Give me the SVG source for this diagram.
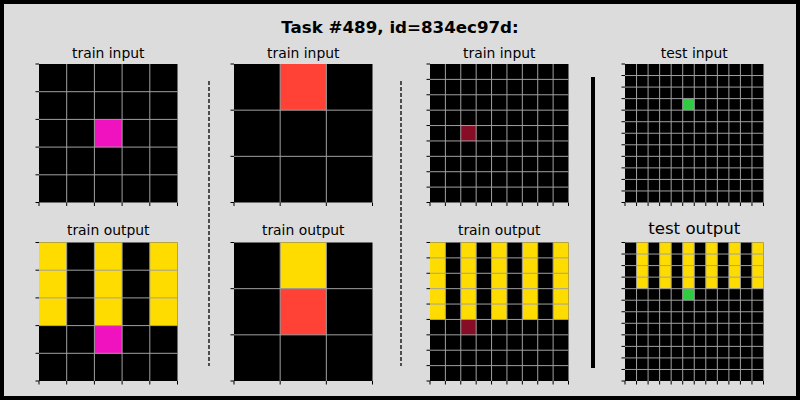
<svg xmlns="http://www.w3.org/2000/svg" width="800" height="400" viewBox="0 0 800 400">
<style>
.t{font-family:"DejaVu Sans","Liberation Sans",sans-serif;fill:#000;text-anchor:middle}
.title{font-size:16.67px;font-weight:bold}
.sub{font-size:13.9px}
.big{font-size:16.67px}
.bg{fill:#000}
.grid{stroke:#a0a0a0;stroke-width:1;fill:none}
.tick{stroke:#000;stroke-width:1;fill:none}
.y{fill:#FFDC00}
.pk{fill:#F012BE}
.rd{fill:#FF4136}
.dr{fill:#870C25}
.gr{fill:#2ECC40}
.sep{stroke:#000;stroke-width:1.3;stroke-dasharray:4,2}
</style>
<rect x="0" y="0" width="800" height="400" fill="#000"/>
<rect x="4" y="4" width="792" height="392" fill="#dcdcdc"/>
<text class="t title" x="400" y="32.5">Task #489, id=834ec97d:</text>

<g id="train-input-1">
<text class="t sub" x="108.25" y="57.5">train input</text>
<rect class="bg" x="39" y="64" width="138.5" height="138.5"/>
<rect class="pk" x="94.4" y="119.4" width="27.7" height="27.7"/>
<path class="grid" d="M66.7 64V202.5M94.4 64V202.5M122.1 64V202.5M149.8 64V202.5M39 91.7H177.5M39 119.4H177.5M39 147.1H177.5M39 174.8H177.5"/>
<path class="tick" d="M35.5 64H39M35.5 91.7H39M35.5 119.4H39M35.5 147.1H39M35.5 174.8H39M35.5 202.5H39M39 202.5V206M66.7 202.5V206M94.4 202.5V206M122.1 202.5V206M149.8 202.5V206M177.5 202.5V206"/>
</g>

<g id="train-output-1">
<text class="t sub" x="108.25" y="234.5">train output</text>
<rect class="bg" x="39" y="242.5" width="138.5" height="138.5"/>
<rect class="y" x="39" y="242.5" width="27.7" height="83.1"/>
<rect class="y" x="94.4" y="242.5" width="27.7" height="83.1"/>
<rect class="y" x="149.8" y="242.5" width="27.7" height="83.1"/>
<rect class="pk" x="94.4" y="325.6" width="27.7" height="27.7"/>
<path class="grid" d="M66.7 242.5V381M94.4 242.5V381M122.1 242.5V381M149.8 242.5V381M39 270.2H177.5M39 297.9H177.5M39 325.6H177.5M39 353.3H177.5"/>
<path class="tick" d="M35.5 242.5H39M35.5 270.2H39M35.5 297.9H39M35.5 325.6H39M35.5 353.3H39M35.5 381H39M39 381V384.5M66.7 381V384.5M94.4 381V384.5M122.1 381V384.5M149.8 381V384.5M177.5 381V384.5"/>
</g>

<g id="train-input-2">
<text class="t sub" x="303.25" y="57.5">train input</text>
<rect class="bg" x="234" y="64" width="138.5" height="138.5"/>
<rect class="rd" x="280.17" y="64" width="46.17" height="46.17"/>
<path class="grid" d="M280.17 64V202.5M326.33 64V202.5M234 110.17H372.5M234 156.33H372.5"/>
<path class="tick" d="M230.5 64H234M230.5 110.17H234M230.5 156.33H234M230.5 202.5H234M234 202.5V206M280.17 202.5V206M326.33 202.5V206M372.5 202.5V206"/>
</g>

<g id="train-output-2">
<text class="t sub" x="303.25" y="234.5">train output</text>
<rect class="bg" x="234" y="242.5" width="138.5" height="138.5"/>
<rect class="y" x="280.17" y="242.5" width="46.17" height="46.17"/>
<rect class="rd" x="280.17" y="288.67" width="46.17" height="46.17"/>
<path class="grid" d="M280.17 242.5V381M326.33 242.5V381M234 288.67H372.5M234 334.83H372.5"/>
<path class="tick" d="M230.5 242.5H234M230.5 288.67H234M230.5 334.83H234M230.5 381H234M234 381V384.5M280.17 381V384.5M326.33 381V384.5M372.5 381V384.5"/>
</g>

<g id="train-input-3">
<text class="t sub" x="499.25" y="57.5">train input</text>
<rect class="bg" x="430" y="64" width="138.5" height="138.5"/>
<rect class="dr" x="460.78" y="125.56" width="15.39" height="15.39"/>
<path class="grid" d="M445.39 64V202.5M460.78 64V202.5M476.17 64V202.5M491.56 64V202.5M506.94 64V202.5M522.33 64V202.5M537.72 64V202.5M553.11 64V202.5M430 79.39H568.5M430 94.78H568.5M430 110.17H568.5M430 125.56H568.5M430 140.94H568.5M430 156.33H568.5M430 171.72H568.5M430 187.11H568.5"/>
<path class="tick" d="M426.5 64H430M426.5 79.39H430M426.5 94.78H430M426.5 110.17H430M426.5 125.56H430M426.5 140.94H430M426.5 156.33H430M426.5 171.72H430M426.5 187.11H430M426.5 202.5H430M430 202.5V206M445.39 202.5V206M460.78 202.5V206M476.17 202.5V206M491.56 202.5V206M506.94 202.5V206M522.33 202.5V206M537.72 202.5V206M553.11 202.5V206M568.5 202.5V206"/>
</g>

<g id="train-output-3">
<text class="t sub" x="499.25" y="234.5">train output</text>
<rect class="bg" x="430" y="242.5" width="138.5" height="138.5"/>
<rect class="y" x="430" y="242.5" width="15.39" height="76.94"/>
<rect class="y" x="460.78" y="242.5" width="15.39" height="76.94"/>
<rect class="y" x="491.56" y="242.5" width="15.39" height="76.94"/>
<rect class="y" x="522.33" y="242.5" width="15.39" height="76.94"/>
<rect class="y" x="553.11" y="242.5" width="15.39" height="76.94"/>
<rect class="dr" x="460.78" y="319.44" width="15.39" height="15.39"/>
<path class="grid" d="M445.39 242.5V381M460.78 242.5V381M476.17 242.5V381M491.56 242.5V381M506.94 242.5V381M522.33 242.5V381M537.72 242.5V381M553.11 242.5V381M430 257.89H568.5M430 273.28H568.5M430 288.67H568.5M430 304.06H568.5M430 319.44H568.5M430 334.83H568.5M430 350.22H568.5M430 365.61H568.5"/>
<path class="tick" d="M426.5 242.5H430M426.5 257.89H430M426.5 273.28H430M426.5 288.67H430M426.5 304.06H430M426.5 319.44H430M426.5 334.83H430M426.5 350.22H430M426.5 365.61H430M426.5 381H430M430 381V384.5M445.39 381V384.5M460.78 381V384.5M476.17 381V384.5M491.56 381V384.5M506.94 381V384.5M522.33 381V384.5M537.72 381V384.5M553.11 381V384.5M568.5 381V384.5"/>
</g>

<g id="test-input">
<text class="t sub" x="694.25" y="57.5">test input</text>
<rect class="bg" x="625" y="64" width="138.5" height="138.5"/>
<rect class="gr" x="682.71" y="98.63" width="11.54" height="11.54"/>
<path class="grid" d="M636.54 64V202.5M648.08 64V202.5M659.63 64V202.5M671.17 64V202.5M682.71 64V202.5M694.25 64V202.5M705.79 64V202.5M717.33 64V202.5M728.88 64V202.5M740.42 64V202.5M751.96 64V202.5M625 75.54H763.5M625 87.08H763.5M625 98.63H763.5M625 110.17H763.5M625 121.71H763.5M625 133.25H763.5M625 144.79H763.5M625 156.33H763.5M625 167.88H763.5M625 179.42H763.5M625 190.96H763.5"/>
<path class="tick" d="M621.5 64H625M621.5 75.54H625M621.5 87.08H625M621.5 98.63H625M621.5 110.17H625M621.5 121.71H625M621.5 133.25H625M621.5 144.79H625M621.5 156.33H625M621.5 167.88H625M621.5 179.42H625M621.5 190.96H625M621.5 202.5H625M625 202.5V206M636.54 202.5V206M648.08 202.5V206M659.63 202.5V206M671.17 202.5V206M682.71 202.5V206M694.25 202.5V206M705.79 202.5V206M717.33 202.5V206M728.88 202.5V206M740.42 202.5V206M751.96 202.5V206M763.5 202.5V206"/>
</g>

<g id="test-output">
<text class="t big" x="694.25" y="234">test output</text>
<rect class="bg" x="625" y="242.5" width="138.5" height="138.5"/>
<rect class="y" x="636.54" y="242.5" width="11.54" height="46.17"/>
<rect class="y" x="659.63" y="242.5" width="11.54" height="46.17"/>
<rect class="y" x="682.71" y="242.5" width="11.54" height="46.17"/>
<rect class="y" x="705.79" y="242.5" width="11.54" height="46.17"/>
<rect class="y" x="728.88" y="242.5" width="11.54" height="46.17"/>
<rect class="y" x="751.96" y="242.5" width="11.54" height="46.17"/>
<rect class="gr" x="682.71" y="288.67" width="11.54" height="11.54"/>
<path class="grid" d="M636.54 242.5V381M648.08 242.5V381M659.63 242.5V381M671.17 242.5V381M682.71 242.5V381M694.25 242.5V381M705.79 242.5V381M717.33 242.5V381M728.88 242.5V381M740.42 242.5V381M751.96 242.5V381M625 254.04H763.5M625 265.58H763.5M625 277.13H763.5M625 288.67H763.5M625 300.21H763.5M625 311.75H763.5M625 323.29H763.5M625 334.83H763.5M625 346.38H763.5M625 357.92H763.5M625 369.46H763.5"/>
<path class="tick" d="M621.5 242.5H625M621.5 254.04H625M621.5 265.58H625M621.5 277.13H625M621.5 288.67H625M621.5 300.21H625M621.5 311.75H625M621.5 323.29H625M621.5 334.83H625M621.5 346.38H625M621.5 357.92H625M621.5 369.46H625M621.5 381H625M625 381V384.5M636.54 381V384.5M648.08 381V384.5M659.63 381V384.5M671.17 381V384.5M682.71 381V384.5M694.25 381V384.5M705.79 381V384.5M717.33 381V384.5M728.88 381V384.5M740.42 381V384.5M751.96 381V384.5M763.5 381V384.5"/>
</g>

<g id="separators">
<line class="sep" x1="209" y1="81" x2="209" y2="366"/>
<line class="sep" x1="401" y1="81" x2="401" y2="366"/>
<line x1="593" y1="77" x2="593" y2="368" stroke="#000" stroke-width="4"/>
</g>
</svg>
